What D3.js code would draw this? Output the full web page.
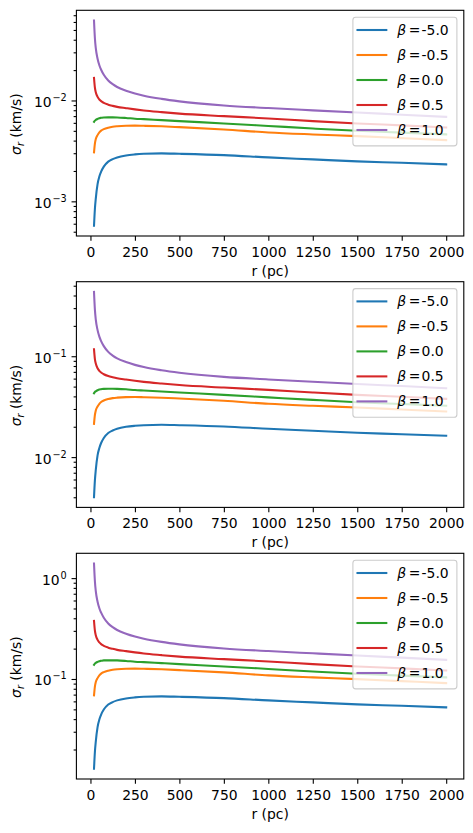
<!DOCTYPE html>
<html><head><meta charset="utf-8">
<script src="https://cdn.jsdelivr.net/npm/d3@7"></script>
<style>
body{margin:0;background:#fff}
svg{display:block}
text{font-family:"DejaVu Sans",sans-serif;fill:#000}
</style>
</head><body>
<script>
// ---------- data ----------
const radius = [20,25,30,40,50,60,75,100,125,150,200,250,300,400,500,750,1000,1250,1500,1750,2000];
const betaLabels = ["-5.0","-0.5","0.0","0.5","1.0"];
const xTicks = [0,250,500,750,1000,1250,1500,1750,2000];

// panel 1
const p1_bm50 = [0.000573,0.000839,0.001066,0.001484,0.00176,0.001972,0.002211,0.002478,0.002623,0.002727,0.002853,0.00292,0.00296,0.002987,0.00296,0.002873,0.002727,0.002605,0.002489,0.002411,0.002325];
const p1_bm05 = [0.003055,0.003736,0.004139,0.004534,0.004822,0.005024,0.005198,0.005379,0.005491,0.005554,0.005618,0.005631,0.005605,0.005541,0.00544,0.005163,0.004822,0.004607,0.004431,0.004233,0.004045];
const p1_b00  = [0.00614,0.00631,0.00642,0.00657,0.00668,0.00673,0.00679,0.00680,0.00680,0.00679,0.00671,0.00660,0.00653,0.00638,0.00624,0.00592,0.00559,0.00527,0.00500,0.00480,0.00461];
const p1_b05  = [0.01674,0.01339,0.01208,0.01086,0.01023,0.00984,0.00947,0.00909,0.00884,0.00864,0.00839,0.00816,0.00796,0.00766,0.00740,0.00699,0.00663,0.00624,0.00592,0.00566,0.00540];
const p1_b10  = [0.06196,0.04139,0.03295,0.02594,0.02236,0.02018,0.01800,0.01578,0.01450,0.01360,0.01250,0.01173,0.01116,0.01037,0.00980,0.00892,0.00841,0.00798,0.00759,0.00723,0.00688];

// panel 2
const p2_bm50 = [0.00401,0.005873,0.007462,0.01039,0.01232,0.0138,0.01548,0.01735,0.01836,0.01909,0.01997,0.02044,0.02072,0.02091,0.02072,0.02011,0.01909,0.01824,0.01742,0.01688,0.01628];
const p2_bm05 = [0.02139,0.02615,0.02897,0.03174,0.03375,0.03517,0.03639,0.03765,0.03844,0.03888,0.03933,0.03942,0.03924,0.03879,0.03808,0.03614,0.03375,0.03225,0.03102,0.02963,0.02832];
const p2_b00  = [0.0430,0.0442,0.0449,0.0460,0.0468,0.0471,0.0475,0.0476,0.0476,0.0475,0.0470,0.0462,0.0457,0.0447,0.0437,0.0414,0.0391,0.0369,0.0350,0.0336,0.0323];
const p2_b05  = [0.1172,0.0937,0.0846,0.0760,0.0716,0.0689,0.0663,0.0636,0.0619,0.0605,0.0587,0.0571,0.0557,0.0536,0.0518,0.0489,0.0464,0.0437,0.0414,0.0396,0.0378];
const p2_b10  = [0.4337,0.2897,0.2307,0.1816,0.1565,0.1413,0.1260,0.1105,0.1015,0.0952,0.0875,0.0821,0.0781,0.0726,0.0686,0.0624,0.0589,0.0559,0.0531,0.0506,0.0482];

// panel 3
const p3_bm50 = [0.01289,0.01888,0.02399,0.03339,0.0396,0.04437,0.04975,0.05576,0.05902,0.06136,0.06419,0.0657,0.0666,0.06721,0.0666,0.06464,0.06136,0.05861,0.0560,0.05425,0.05231];
const p3_bm05 = [0.06874,0.08406,0.09313,0.1020,0.1085,0.1130,0.1170,0.1210,0.1235,0.1250,0.1264,0.1267,0.1261,0.1247,0.1224,0.1162,0.1085,0.1037,0.0997,0.0952,0.0910];
const p3_b00  = [0.1382,0.1420,0.1445,0.1478,0.1503,0.1514,0.1528,0.1530,0.1530,0.1528,0.1510,0.1485,0.1469,0.1436,0.1404,0.1332,0.1258,0.1186,0.1125,0.1080,0.1037];
const p3_b05  = [0.3767,0.3013,0.2718,0.2444,0.2302,0.2214,0.2131,0.2045,0.1989,0.1944,0.1888,0.1836,0.1791,0.1724,0.1665,0.1573,0.1492,0.1404,0.1332,0.1274,0.1215];
const p3_b10  = [1.394,0.9313,0.7414,0.5837,0.5031,0.4541,0.4050,0.3551,0.3263,0.3060,0.2813,0.2639,0.2511,0.2333,0.2205,0.2007,0.1892,0.1796,0.1708,0.1627,0.1548];

const panels = [
  [p1_bm50,p1_bm05,p1_b00,p1_b05,p1_b10],
  [p2_bm50,p2_bm05,p2_b00,p2_b05,p2_b10],
  [p3_bm50,p3_bm05,p3_b00,p3_b05,p3_b10]
];
const colors = ["#1f77b4","#ff7f0e","#2ca02c","#d62728","#9467bd"];

// ---------- layout ----------
const W = 473, H = 833;
const fs = 13.9, fsSmall = 9.7;
const axLeft = 76.4, axRight = 463.8, axH = 225.7;
const panelTops = [10.3, 281.7, 553.3];
const majorLen = 4.86, minorLen = 2.78, tickW = 1.1;

const svg = d3.select("body").append("svg").attr("width", W).attr("height", H);

const rExt = d3.extent(radius);
const rPad = (rExt[1] - rExt[0]) * 0.05;
const x = d3.scaleLinear().domain([rExt[0] - rPad, rExt[1] + rPad]).range([axLeft, axRight]);

panels.forEach((series, pi) => {
  const top = panelTops[pi], bottom = top + axH;
  const all = series.flat();
  const lmin = Math.log10(d3.min(all)), lmax = Math.log10(d3.max(all));
  const m = (lmax - lmin) * 0.05;
  const y = d3.scaleLog().domain([Math.pow(10, lmin - m), Math.pow(10, lmax + m)]).range([bottom, top]);
  const g = svg.append("g");

  // lines
  const line = d3.line().x((d, i) => x(radius[i])).y(d => y(d)).curve(d3.curveMonotoneX);
  series.forEach((s, si) => {
    g.append("path").attr("d", line(s)).attr("fill", "none")
      .attr("stroke", colors[si]).attr("stroke-width", 2.08)
      .attr("stroke-linecap", "square").attr("stroke-linejoin", "round");
  });

  // y ticks
  const kLo = Math.floor(lmin - m), kHi = Math.ceil(lmax + m);
  const [d0, d1] = y.domain();
  const majors = [], minors = [];
  for (let k = kLo; k <= kHi; k++) {
    const v = Math.pow(10, k);
    if (v >= d0 && v <= d1) majors.push(v);
    for (let j = 2; j <= 9; j++) {
      const mv = j * v;
      if (mv >= d0 && mv <= d1) minors.push(mv);
    }
  }
  const yMinorAxis = g.append("g").attr("transform", `translate(${axLeft},0)`)
    .call(d3.axisLeft(y).tickValues(minors).tickSize(minorLen).tickFormat(""));
  const yMajorAxis = g.append("g").attr("transform", `translate(${axLeft},0)`)
    .call(d3.axisLeft(y).tickValues(majors).tickSize(majorLen).tickFormat(""));
  [yMinorAxis, yMajorAxis].forEach(a => {
    a.select(".domain").remove();
    a.selectAll("line").attr("stroke", "#000").attr("stroke-width", tickW);
  });
  majors.forEach(v => {
    const k = Math.round(Math.log10(v));
    const t = g.append("text").attr("x", axLeft - 9.72).attr("y", y(v) + 6.4)
      .attr("text-anchor", "end").style("font-size", fs + "px");
    t.append("tspan").text("10");
    t.append("tspan").attr("dx", 0.8).attr("dy", -5.9).style("font-size", fsSmall + "px")
      .text((k < 0 ? "\u2212" : "") + Math.abs(k));
  });

  // x ticks
  const xAxis = g.append("g").attr("transform", `translate(0,${bottom})`)
    .call(d3.axisBottom(x).tickValues(xTicks).tickSize(majorLen).tickFormat(d3.format("d")));
  xAxis.select(".domain").remove();
  xAxis.selectAll("line").attr("stroke", "#000").attr("stroke-width", tickW);
  xAxis.selectAll("text").attr("y", 21).attr("dy", null)
    .style("font-size", fs + "px").style("font-family", '"DejaVu Sans",sans-serif').attr("fill", "#000");

  // spines
  g.append("rect").attr("x", axLeft).attr("y", top).attr("width", axRight - axLeft).attr("height", axH)
    .attr("fill", "none").attr("stroke", "#000").attr("stroke-width", tickW);

  // axis labels
  g.append("text").attr("x", (axLeft + axRight) / 2).attr("y", bottom + 39.6)
    .attr("text-anchor", "middle").style("font-size", fs + "px").text("r (pc)");
  const yl = g.append("text").attr("transform", `translate(21.3,${(top + bottom) / 2 + 1}) rotate(-90)`)
    .attr("text-anchor", "middle").style("font-size", fs + "px");
  yl.append("tspan").style("font-style", "italic").text("\u03c3");
  yl.append("tspan").style("font-style", "italic").style("font-size", fsSmall + "px").attr("dy", 2.8).text("r");
  yl.append("tspan").attr("dy", -2.8).text(" (km/s)");

  // legend
  const lgW = 104, lgH = 128.7;
  const lgRight = axRight - 6.9, lgTop = top + 6.9, lgLeft = lgRight - lgW;
  g.append("rect").attr("x", lgLeft).attr("y", lgTop).attr("width", lgW).attr("height", lgH)
    .attr("rx", 2.8).attr("ry", 2.8)
    .attr("fill", "#fff").attr("fill-opacity", 0.8)
    .attr("stroke", "#cccccc").attr("stroke-width", 1.1);
  betaLabels.forEach((lab, i) => {
    const ly = lgTop + 12.8 + i * 25;
    g.append("line").attr("x1", lgLeft + 4.6).attr("x2", lgLeft + 33.4).attr("y1", ly).attr("y2", ly)
      .attr("stroke", colors[i]).attr("stroke-width", 2.08).attr("stroke-linecap", "square");
    const t = g.append("text").attr("x", lgLeft + 44.4).attr("y", ly + 4.9).style("font-size", fs + "px");
    t.append("tspan").style("font-style", "italic").text("\u03b2");
    t.append("tspan").attr("dx", 2.6).text("=");
    t.append("tspan").attr("dx", 1.2).text(lab);
  });
});
</script>
</body></html>
